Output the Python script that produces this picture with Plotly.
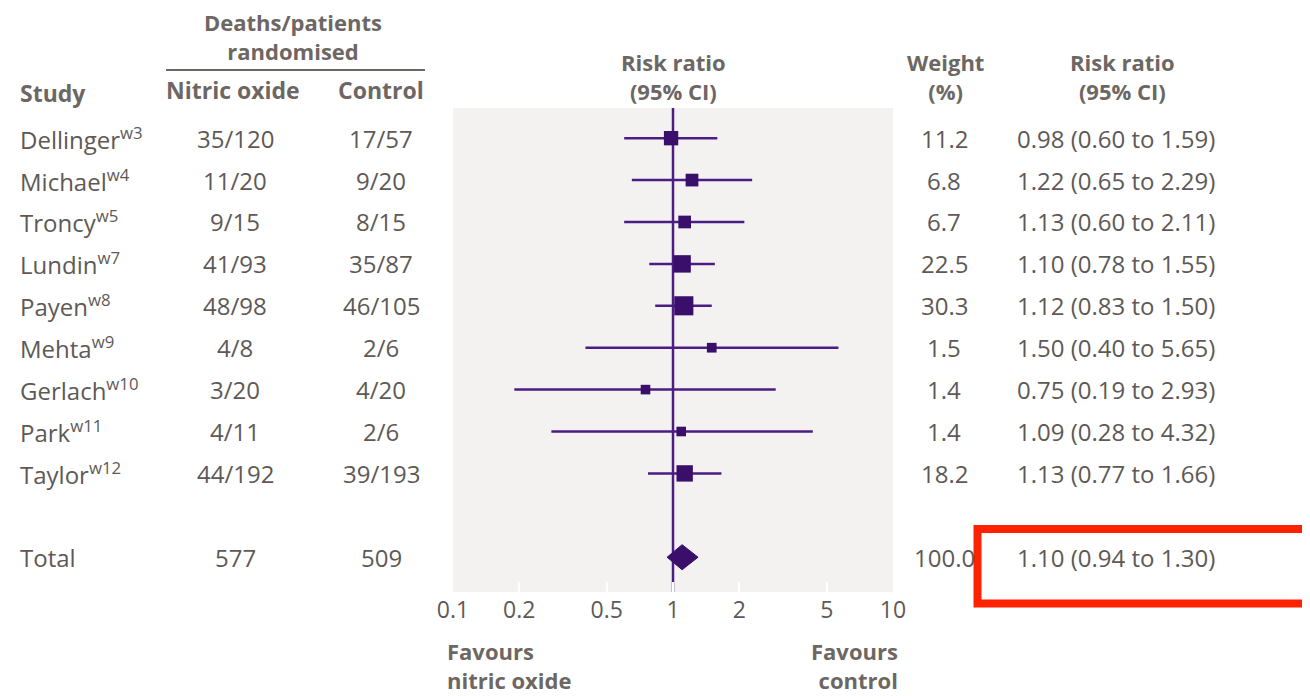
import plotly.graph_objects as go

studies = ["Dellinger", "Michael", "Troncy", "Lundin", "Payen", "Mehta", "Gerlach", "Park", "Taylor"]
refs = ["w3", "w4", "w5", "w7", "w8", "w9", "w10", "w11", "w12"]
no_events = ["35/120", "11/20", "9/15", "41/93", "48/98", "4/8", "3/20", "4/11", "44/192"]
ctrl_events = ["17/57", "9/20", "8/15", "35/87", "46/105", "2/6", "4/20", "2/6", "39/193"]
weights = [11.2, 6.8, 6.7, 22.5, 30.3, 1.5, 1.4, 1.4, 18.2]
rr = [0.98, 1.22, 1.13, 1.10, 1.12, 1.50, 0.75, 1.09, 1.13]
lo = [0.60, 0.65, 0.60, 0.78, 0.83, 0.40, 0.19, 0.28, 0.77]
hi = [1.59, 2.29, 2.11, 1.55, 1.50, 5.65, 2.93, 4.32, 1.66]
total_label = "Total"
total_no = "577"
total_ctrl = "509"
total_weight = "100.0"
total_rr, total_lo, total_hi = 1.10, 0.94, 1.30
tick_vals = [0.1, 0.2, 0.5, 1, 2, 5, 10]
tick_text = ["0.1", "0.2", "0.5", "1", "2", "5", "10"]

# ---- layout constants (page pixels; page body has an 8px margin) ----
OFF = 8
W, H = 1310 - OFF, 696 - OFF
L, R, T, B = 453 - OFF, 893 - OFF, 108 - OFF, 592 - OFF
PURPLE = "#4b1c84"
MARK = "#3a0f6c"
TXT = "#5e5956"
HDR = "#6d6764"
FONT = "Open Sans"
FS = 24
HFS = 22

row_y = list(range(len(studies)))
total_y = len(studies) + 1
y_top, y_bot = -0.72, 10.83


def px_x(p):
    return (p - OFF - L) / (R - L)


def px_y(p):
    return (B - (p - OFF)) / (B - T)


fig = go.Figure()

# CI lines
lx, ly = [], []
for i in range(len(studies)):
    lx += [lo[i], hi[i], None]
    ly += [row_y[i], row_y[i], None]
fig.add_trace(go.Scatter(x=lx, y=ly, mode="lines", line=dict(color=PURPLE, width=2.5),
                         hoverinfo="skip", showlegend=False))

# squares (size from weight)
sizes = [7 + 2.2 * (w ** 0.5) for w in weights]
fig.add_trace(go.Scatter(x=rr, y=row_y, mode="markers",
                         marker=dict(symbol="square", size=sizes, color=MARK, opacity=1,
                                     line=dict(width=0)),
                         showlegend=False))

# diamond
dh = 0.3
fig.add_trace(go.Scatter(x=[total_lo, total_rr, total_hi, total_rr, total_lo],
                         y=[total_y, total_y - dh, total_y, total_y + dh, total_y],
                         mode="lines", fill="toself", fillcolor=MARK,
                         line=dict(color=MARK, width=1), showlegend=False))

# line of no effect
fig.add_shape(type="line", xref="x", yref="paper", x0=1, x1=1, y0=0, y1=1,
              line=dict(color=PURPLE, width=2.5), layer="below")

ann = []


def txt(x, y, s, xanchor="center", yref="y", bold=False, color=TXT, size=FS, align="center"):
    if bold:
        s = "<b>" + s.replace("<br>", "</b><br><b>") + "</b>"
    ann.append(dict(x=x, y=y, xref="paper", yref=yref, text=s, showarrow=False,
                    xanchor=xanchor, yanchor="middle", align=align,
                    font=dict(family=FONT, size=size, color=color)))


# headers
txt(px_x(18), px_y(93), "Study", "left", "paper", True, HDR, 23, "left")
txt(px_x(293), px_y(36), "Deaths/patients<br>randomised", "center", "paper", True, HDR, HFS)
txt(px_x(233), px_y(90), "Nitric oxide", "center", "paper", True, HDR, 23)
txt(px_x(381), px_y(90), "Control", "center", "paper", True, HDR, 23)
txt(px_x(673), px_y(76), "Risk ratio<br>(95% CI)", "center", "paper", True, HDR, HFS)
txt(px_x(945), px_y(76), "Weight<br>(%)", "center", "paper", True, HDR, HFS)
txt(px_x(1122), px_y(76), "Risk ratio<br>(95% CI)", "center", "paper", True, HDR, HFS)
txt(px_x(445), px_y(665), "Favours<br>nitric oxide", "left", "paper", True, HDR, HFS, "left")
txt(px_x(900), px_y(665), "Favours<br>control", "right", "paper", True, HDR, HFS, "right")

for i in range(len(studies)):
    y = row_y[i]
    txt(px_x(18), y, f"{studies[i]}<sup>{refs[i]}</sup>", "left")
    txt(px_x(235), y, no_events[i])
    txt(px_x(381), y, ctrl_events[i])
    txt(px_x(944), y, f"{weights[i]:.1f}")
    txt(px_x(1015), y, f"{rr[i]:.2f} ({lo[i]:.2f} to {hi[i]:.2f})", "left")

txt(px_x(18), total_y, total_label, "left")
txt(px_x(235), total_y, total_no)
txt(px_x(381), total_y, total_ctrl)
txt(px_x(944), total_y, total_weight)
txt(px_x(1015), total_y, f"{total_rr:.2f} ({total_lo:.2f} to {total_hi:.2f})", "left")

# underline under "Deaths/patients randomised"
fig.add_shape(type="line", xref="paper", yref="paper", x0=px_x(166), x1=px_x(425),
              y0=px_y(70), y1=px_y(70), line=dict(color=HDR, width=2))

# red highlight rectangle
fig.add_shape(type="rect", xref="paper", yref="paper", x0=px_x(977.5), x1=px_x(1330),
              y0=px_y(529), y1=px_y(603.5), line=dict(color="#ff2200", width=8),
              fillcolor="rgba(0,0,0,0)")

fig.update_layout(
    width=W, height=H,
    margin=dict(l=L, r=W - R, t=T, b=H - B, pad=0),
    paper_bgcolor="white", plot_bgcolor="#f3f2f1",
    annotations=ann, showlegend=False,
    xaxis=dict(type="log", range=[-1, 1], tickvals=tick_vals, ticktext=tick_text,
               ticks="inside", ticklen=10, tickwidth=2, tickcolor="white",
               showgrid=False, zeroline=False, showline=False,
               tickfont=dict(family=FONT, size=23, color=TXT), ticklabelstandoff=2,
               fixedrange=True),
    yaxis=dict(range=[y_bot, y_top], showticklabels=False, showgrid=False,
               zeroline=False, showline=False, ticks="", fixedrange=True),
)

fig.write_html("out.html")
